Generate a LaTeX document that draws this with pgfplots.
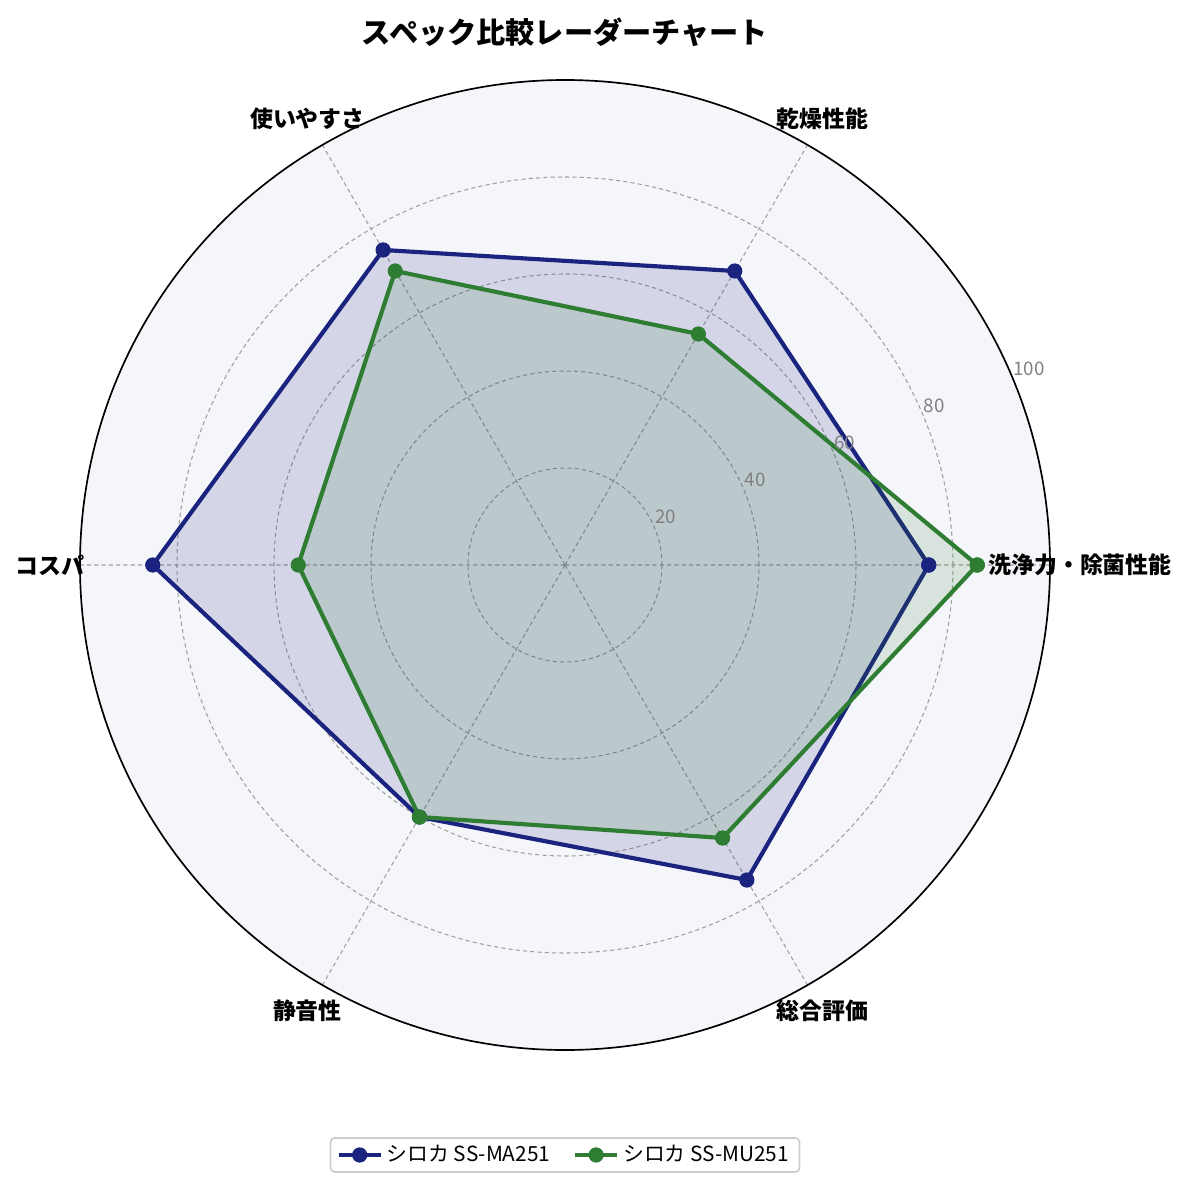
\documentclass[border=0pt]{standalone}
\usepackage{fontspec}
\setmainfont{Noto Sans CJK JP}
\usepackage{pgfplots}
\pgfplotsset{compat=1.18}
\usepgfplotslibrary{polar}
\definecolor{navyc}{HTML}{1A237E}
\definecolor{greenc}{HTML}{2E7D32}
\definecolor{bgc}{HTML}{F5F6FA}
\begin{document}
\begin{tikzpicture}
\path[use as bounding box] (-271.2pt,-298.08pt) rectangle (297.6pt,271.2pt);
\begin{polaraxis}[
  at={(0pt,0pt)}, anchor=origin,
  scale only axis, width=465.6pt, height=465.6pt,
  xmin=0, xmax=360, ymin=0, ymax=100,
  xtick={0,60,...,300}, xticklabels={},
  ytick={20,40,60,80,100}, yticklabels={},
  major tick length=0pt,
  xmajorgrids, ymajorgrids,
  grid style={gray!75, line width=0.5pt, dash pattern=on 2pt off 1.5pt},
  axis line style={black, line width=0.8pt},
  y axis line style={draw=none},
  axis background/.style={fill=bgc},
  clip=false,
  title={\bfseries\fontsize{14}{16}\selectfont スペック比較レーダーチャート},
  title style={at={(0.5,1)}, anchor=center, yshift=8.7pt},
  legend columns=2,
  legend style={at={(0.5,0)}, anchor=north, yshift=-41.8pt, draw=black!20, line width=0.8pt,
    rounded corners=2pt, font=\fontsize{10}{12}\selectfont,
    /tikz/every even column/.append style={column sep=9pt},
    inner xsep=3pt, inner ysep=1.5pt},
  legend image code/.code={\draw[mark repeat=2,mark phase=2] plot coordinates {(0pt,0pt) (10pt,0pt) (20pt,0pt)};},
]
\addplot[navyc, line width=2pt, line join=round, mark=*, mark size=3.4pt, mark options={solid, fill=navyc, draw=navyc, line width=0.5pt}]
  coordinates {(0,75) (60,70) (120,75) (180,85) (240,60) (300,75) (360,75)};
\addlegendentry{シロカ SS-MA251}
\addplot[forget plot, draw=none, fill=navyc, fill opacity=0.15]
  coordinates {(0,75) (60,70) (120,75) (180,85) (240,60) (300,75) (360,75)};
\addplot[greenc, line width=2pt, line join=round, mark=*, mark size=3.4pt, mark options={solid, fill=greenc, draw=greenc, line width=0.5pt}]
  coordinates {(0,85) (60,55) (120,70) (180,55) (240,60) (300,65) (360,85)};
\addlegendentry{シロカ SS-MU251}
\addplot[forget plot, draw=none, fill=greenc, fill opacity=0.15]
  coordinates {(0,85) (60,55) (120,70) (180,55) (240,60) (300,65) (360,85)};

\foreach \a/\t in {0/洗浄力・除菌性能, 60/乾燥性能, 120/使いやすさ, 180/コスパ, 240/静音性, 300/総合評価}{
  \edef\temp{\noexpand\node[font=\noexpand\bfseries\noexpand\fontsize{11}{13}\noexpand\selectfont, anchor=center] at (axis cs:\a,106.2) {\t};}
  \temp
}
\foreach \r in {20,40,60,80,100}{
  \edef\temp{\noexpand\node[text=gray, font=\noexpand\fontsize{9}{11}\noexpand\selectfont, anchor=base west, inner sep=0pt, yshift=2pt] at (axis cs:22.5,\r) {\r};}
  \temp
}
\end{polaraxis}
\end{tikzpicture}
\end{document}
